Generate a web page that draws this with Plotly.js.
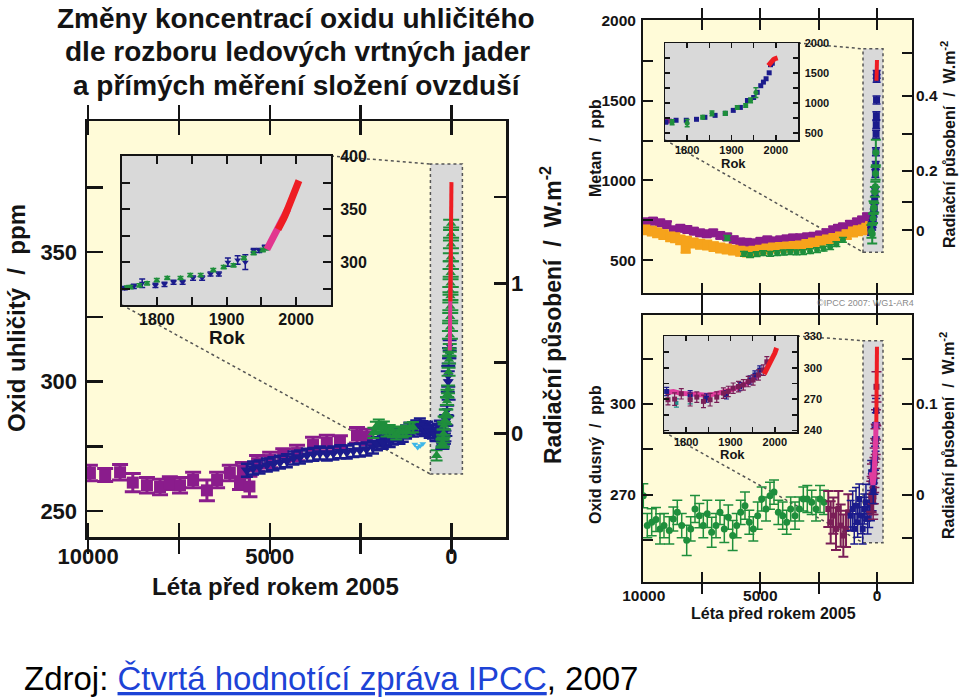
<!DOCTYPE html>
<html><head><meta charset="utf-8">
<script src="https://cdn.plot.ly/plotly-3.0.1.min.js"></script>
<style>html,body{margin:0;padding:0;background:#fff;overflow:hidden}#chart{width:960px;height:697px}</style>
</head><body><div id="chart"></div><script>
// ---------------- DATA ----------------
const REF_YEAR = 2005;
// CO2 main panel (years before 2005, ppm)
const co2PurpleBP  = [9950, 9530, 9120, 8770, 8380, 8020, 7750, 7470, 7110, 6730, 6450, 6100, 5820, 5740, 5560, 5350, 4990, 4630, 4250, 3810, 3430, 3070, 2600, 2330];
const co2PurplePpm = [264.7, 263.9, 265.0, 261.0, 260.0, 259.3, 260.8, 260.0, 262.0, 258.0, 262.0, 264.7, 260.8, 265.8, 259.5, 268.5, 269.7, 271.6, 272.4, 275.5, 276.3, 276.6, 279.3, 278.6];
const co2PurpleErr = [3, 2.5, 3, 3.5, 3, 3, 2.5, 3, 3, 4, 3, 3, 2.5, 3, 4, 3, 3, 2.5, 3, 3, 3, 2.5, 3, 3];
const co2NavyBP  = [5630, 5460, 5280, 5080, 4900, 4720, 4530, 4350, 4170, 3980, 3800, 3620, 3430, 3250, 3060, 2880, 2700, 2520, 2340, 2160, 2050, 1950, 1890, 1800, 1700, 1610, 1520, 1430, 1340, 1250, 1160, 1060, 970, 870, 800, 730, 670, 600, 510, 440, 380, 320, 260];
const co2NavyPpm = [265.8, 266.6, 267.0, 267.8, 268.3, 268.9, 269.4, 270.5, 270.9, 271.6, 271.9, 272.4, 272.0, 272.4, 272.9, 272.8, 273.4, 273.6, 274.0, 274.7, 276.0, 277.5, 276.6, 278.0, 277.2, 278.2, 279.5, 278.5, 279.3, 280.5, 281.6, 281.3, 282.5, 283.2, 282.2, 281.5, 282.0, 280.8, 280.5, 279.6, 281.2, 282.4, 280.5];
const co2GreenBP  = [2150, 2080, 2000, 1930, 1860, 1790, 1700, 1610, 1520, 1430, 1340, 1250, 1150, 1060, 410];
const co2GreenPpm = [280.2, 282.5, 283.4, 282.0, 282.6, 280.8, 281.2, 280.5, 279.6, 280.7, 280.4, 281.0, 282.1, 282.4, 271.5];
const co2CyanBP  = [1010, 930, 860, 790];
const co2CyanPpm = [275.8, 274.6, 275.2, 276.0];
// CO2 industrial era (calendar years, ppm)
const co2NavyYear    = [1754, 1767, 1779, 1798, 1811, 1824, 1837, 1852, 1865, 1877, 1889, 1902, 1916, 1927, 1939, 1947, 1955];
const co2NavyYearPpm = [275.5, 277, 280, 278, 279, 281, 281, 285, 285, 288.8, 288.8, 300, 302, 300, 311, 311, 314];
const co2NavyYearErr = [1.5, 2, 4, 2, 2, 2, 2, 2, 2, 2, 2, 4, 4, 7, 2, 2, 2];
const co2GreenYear    = [1757, 1762, 1775, 1786, 1800, 1815, 1834, 1848, 1863, 1881, 1896, 1910, 1925, 1939, 1952, 1957];
const co2GreenYearPpm = [276, 276.4, 278, 280, 283, 285, 285, 287.7, 287.7, 292.5, 295.3, 297, 303.8, 308.5, 311.3, 313];
const co2GreenRecentYear = [1962, 1966, 1970, 1973, 1976, 1978, 1980, 1983, 1985, 1987, 1990, 1993, 1996];
const co2GreenRecentPpm  = [318, 321, 325, 329, 333, 335, 338, 342, 345, 348, 353, 357, 361];
const co2PinkYear = [1958, 1960, 1962, 1964, 1966, 1968, 1970, 1972, 1974, 1976, 1978, 1980, 1982, 1984, 1986, 1988];
const co2PinkPpm  = [312, 314.5, 316.5, 318, 320, 322.5, 325, 327.5, 330, 332, 335, 338, 341, 344, 347, 350];
const co2RedYear = [1974, 1976, 1978, 1980, 1982, 1984, 1986, 1988, 1990, 1992, 1994, 1996, 1998, 2000, 2002, 2004];
const co2RedPpm  = [331, 333, 335.5, 338.5, 341, 344, 347, 350.5, 354, 356.5, 359, 362.5, 366, 369.5, 373, 377];

// CH4 main panel (years before 2005, ppb)
const ch4PurpleBP  = [9900, 9600, 9290, 9000, 8730, 8430, 8130, 7850, 7580, 7300, 7020, 6720, 6420, 6140, 5860, 5580, 5300, 5000, 4700, 4430, 4150, 3880, 3600, 3300, 3000, 2720, 2440, 2160, 1880, 1670, 1460, 1160, 860, 640, 430];
const ch4PurplePpb = [740, 745, 734, 722, 690, 700, 692, 682, 671, 665, 671, 655, 646, 628, 614, 612, 608, 618, 627, 620, 627, 633, 639, 640, 646, 650, 658, 672, 690, 700, 709, 725, 740, 752, 772];
const ch4OrangeBP  = [9930, 9650, 9420, 9150, 8860, 8650, 8430, 8200, 8150, 7870, 7580, 7280, 7000, 6720, 6440, 6160, 5860, 5570, 5290, 5010, 4730, 4450, 4150, 3850, 3570, 3300, 3020, 2740, 2440, 2140, 1860, 1580, 1300, 1030, 820, 600, 450, 300];
const ch4OrangePpb = [690, 682, 671, 660, 646, 640, 627, 575, 618, 608, 600, 595, 585, 576, 570, 563, 556, 551, 556, 563, 570, 576, 580, 582, 586, 589, 598, 608, 618, 627, 636, 646, 660, 677, 684, 690, 700, 709];
const ch4GreenBP  = [6420, 5700, 5440, 5160, 4880, 4580, 4280, 4000, 3720, 3450, 3170, 2870, 2570, 2290, 2010, 1740, 1460];
const ch4GreenPpb = [639, 540, 532, 538, 544, 540, 544, 548, 551, 549, 551, 556, 563, 572, 582, 600, 627];
// CH4 industrial era (calendar years, ppb)
const ch4NavyYear = [1752, 1775, 1798, 1821, 1840, 1863, 1886, 1904, 1920, 1936, 1950, 1958, 1966, 1972, 1978, 1985, 1988, 1992];
const ch4NavyPpb  = [681, 714, 714, 730, 763, 796, 829, 879, 928, 1044, 1093, 1180, 1290, 1350, 1406, 1505, 1640, 1665];
const ch4GreenYear = [1766, 1800, 1835, 1856, 1886, 1913, 1932, 1943, 1955];
const ch4GreenYearPpb = [681, 665, 763, 829, 829, 928, 961, 1044, 1175];
const ch4GreenYearErr = [40, 60, 30, 40, 30, 30, 30, 40, 80];
const ch4PurpleYear = [1752, 1760];
const ch4PurpleYearPpb = [714, 700];
const ch4RedYear = [1983, 1986, 1989, 1992, 1995, 1998, 2001, 2004];
const ch4RedPpb  = [1625, 1660, 1690, 1715, 1728, 1740, 1750, 1755];

// N2O main panel (years before 2005, ppb)
const n2oGreenBP  = [10017, 9846, 9657, 9473, 9301, 9130, 8902, 8731, 8560, 8371, 8157, 7986, 7801, 7616, 7445, 7274, 7086, 6901, 6730, 6545, 6374, 6186, 6015, 5843, 5659, 5473, 5302, 5114, 4943, 4758, 4587, 4415, 4230, 4042, 3871, 3700, 3515, 3331, 3159, 2988, 2799, 2615, 2443, 2272];
const n2oGreenPpb = [269.6, 259.7, 260.8, 261.7, 258.6, 259.7, 258.1, 261.9, 264.1, 259.7, 254.8, 258.6, 265.2, 263.0, 259.7, 263.6, 257.5, 259.7, 264.1, 258.6, 262.5, 256.4, 259.7, 264.1, 266.3, 260.8, 258.6, 263.0, 268.5, 265.2, 269.6, 270.8, 264.1, 263.0, 260.8, 265.2, 263.0, 265.2, 268.5, 268.5, 267.4, 265.2, 268.5, 267.4];
const n2oGreenErr = [4, 4, 4.5, 4, 5, 4, 4.5, 4, 4, 4, 5, 4, 4.5, 4, 4, 4.5, 5, 4, 4, 4.5, 4, 5, 4, 4, 4.5, 4, 4, 4.5, 4, 4, 4.5, 4, 4, 4.5, 4, 4, 4.5, 4, 4, 4.5, 4, 4, 4.5, 4];
const n2oMaroonBP  = [2088, 1985, 1871, 1757, 1657, 1557, 1443, 1328, 1229];
const n2oMaroonPpb = [265.2, 260.8, 263.0, 258.6, 265.2, 259.7, 256.4, 258.6, 264.1];
const n2oMaroonErr = [6, 7, 6, 7, 6, 7, 7, 6, 6];
const n2oNavyBP  = [1129, 1043, 974, 901, 830, 761, 688, 615, 547, 474, 401, 332, 259, 187];
const n2oNavyPpb = [263.0, 265.2, 258.6, 266.3, 260.8, 268.5, 263.0, 258.6, 265.2, 267.4, 261.9, 264.1, 266.3, 269.6];
const n2oNavyErr = [5, 6, 5, 6, 5, 5, 6, 5, 5, 6, 5, 5, 5, 5];
// N2O industrial era (calendar years, ppb)
const n2oPinkYear = [1756, 1771, 1786, 1801, 1816, 1831, 1846, 1861, 1876, 1891, 1906, 1921, 1936, 1951, 1966];
const n2oPinkPpb  = [276.4, 277.3, 275.7, 275.1, 274.1, 273.2, 273.8, 274.5, 275.7, 277.6, 279.5, 281.8, 285, 289, 294];
const n2oMaroonYear    = [1759, 1774, 1789, 1809, 1824, 1839, 1854, 1869, 1884, 1895, 1906, 1918, 1929, 1940, 1951, 1963, 1974, 1982];
const n2oMaroonYearPpb = [269.4, 270.0, 275.1, 269.4, 271.9, 267.8, 269.4, 271.9, 275.7, 277.3, 280.4, 282.0, 283.6, 286.8, 288.3, 293.1, 297.8, 305.7];
const n2oMaroonYearErr = [5, 6, 5, 6, 5, 6, 6, 5, 5, 5, 5, 5, 5, 5, 5, 5, 5, 5];
const n2oNavyYear    = [1756, 1809, 1846, 1891, 1921, 1944, 1955, 1966];
const n2oNavyYearPpb = [277.3, 274.1, 271.0, 274.1, 282.0, 288.3, 293.1, 297.8];
const n2oTealYear = [1778, 1809];
const n2oTealPpb  = [266.3, 269.4];
const n2oRedYear = [1976, 1980, 1984, 1988, 1992, 1996, 2000, 2004];
const n2oRedPpb  = [294, 297, 300, 303, 306, 310, 314, 319];

// Tick labels
const mainXTickVals = [10000, 7500, 5000, 2500, 0];
const mainXTickText = ['10000', '', '5000', '', '0'];
const insetXTickVals = [1800, 1850, 1900, 1950, 2000];
const insetXTickText = ['1800', '', '1900', '', '2000'];
const co2YTickVals = [250, 275, 300, 325, 350, 375];
const co2YTickText = ['250', '', '300', '', '350', ''];
const co2InsYTickVals = [275, 300, 325, 350, 375, 400];
const co2InsYTickText = ['', '300', '', '350', '', '400'];
const co2RfTickText = ['0', '', '1', ''];
const co2RfTickPpm  = [279.9, 307.3, 337.8, 371.2];
const ch4YTickVals = [500, 750, 1000, 1250, 1500, 1750, 2000];
const ch4YTickText = ['500', '', '1000', '', '1500', '', '2000'];
const ch4InsYTickVals = [500, 750, 1000, 1250, 1500, 1750, 2000];
const ch4InsYTickText = ['500', '', '1000', '', '1500', '', '2000'];
const ch4RfTickText = ['0', '', '0.2', '', '0.4', ''];
const ch4RfTickPpb  = [687, 862, 1062, 1294, 1531, 1800];
const n2oYTickVals = [255, 270, 285, 300, 315, 330];
const n2oYTickText = ['', '270', '', '300', '', '330'];
const n2oInsYTickVals = [240, 255, 270, 285, 300, 315, 330];
const n2oInsYTickText = ['240', '', '270', '', '300', '', '330'];
const n2oRfTickText = ['', '0', '', '0.1', ''];
const n2oRfTickPpb  = [255.5, 270, 285.2, 300, 314.9];

// ---------------- STYLE / LAYOUT ----------------
const W = 960, H = 697;
const FONT = 'Liberation Sans, Arial, Helvetica, sans-serif';
const BLACK = '#141414';
const C = {purple:'#8a1c8c', navy:'#1b1b8c', green:'#1f8f3c', cyan:'#3db6e8', pink:'#e2368f',
  red:'#ee1d23', orange:'#f6a31b', maroon:'#7a1e57', npink:'#e03c9e', teal:'#1e8f8a',
  bg:'#fffbd8', grey:'#d9d9d9', dot:'#555555'};

const P = {
  co2:  {l:87,  t:121, r:506, b:537, xr:[10030,-1500], yr:[240,400.6]},
  co2i: {l:122, t:156, r:331, b:305, xr:[1750,2050],  yr:[259.5,400.3]},
  ch4:  {l:643, t:20,  r:912, b:293, xr:[10030,-1500], yr:[294,2006]},
  ch4i: {l:665, t:43,  r:798, b:140, xr:[1750,2050],  yr:[385,2002]},
  n2o:  {l:643, t:315, r:912, b:582, xr:[10030,-1500], yr:[241,329.5]},
  n2oi: {l:664, t:336, r:797, b:432, xr:[1750,2050],  yr:[238.5,330.4]}
};
const BOX = {
  co2: {x0:580, x1:-300, y0:264.3, y1:384},
  ch4: {x0:600, x1:-257, y0:550, y1:1825},
  n2o: {x0:600, x1:-257, y0:254, y1:321}
};
function xdom(p){return [p.l/W, p.r/W];}
function ydom(p){return [1-p.b/H, 1-p.t/H];}
function px2x(p,px){return p.xr[0]+(px-p.l)/(p.r-p.l)*(p.xr[1]-p.xr[0]);}
function py2y(p,py){return p.yr[1]-(py-p.t)/(p.b-p.t)*(p.yr[1]-p.yr[0]);}
const toBP = arr => arr.map(y => REF_YEAR - y);

function font(size, bold, color){return {family:FONT, size:size, color:color||BLACK, weight: bold?'bold':'normal'};}
function axis(p, isX, extra){
  return Object.assign({domain: isX?xdom(p):ydom(p), range: isX?p.xr:p.yr, autorange:false,
    showgrid:false, zeroline:false, showline:true, linecolor:BLACK, linewidth:2.5,
    ticks:'inside', tickcolor:BLACK, fixedrange:true, tickmode:'array'}, extra);
}
function rfAxis(base, xa, p, vals, text, tf, len, w, standoff){
  return {overlaying:base, side:'right', anchor:xa, range:p.yr, autorange:false, tickmode:'array',
    tickvals:vals, ticktext:text, ticks:'inside', ticklen:len, tickwidth:w, tickcolor:BLACK,
    showline:false, showgrid:false, zeroline:false, showticklabels:true, tickfont:tf,
    ticklabelstandoff:standoff, fixedrange:true};
}

// ---------------- TRACES ----------------
function pts(x, y, xa, ya, color, symbol, size, err, errW, thick){
  const t = {x:x, y:y, xaxis:xa, yaxis:ya, type:'scatter', mode:'markers', cliponaxis:true,
    marker:{symbol:symbol, size:size, color:color, line:{width:0}}, hoverinfo:'skip', showlegend:false};
  if (err) t.error_y = {type:'data', array:err, color:color, thickness:thick||2, width:errW||4};
  return t;
}
function line(x, y, xa, ya, color, width){
  return {x:x, y:y, xaxis:xa, yaxis:ya, type:'scatter', mode:'lines', line:{color:color, width:width},
    hoverinfo:'skip', showlegend:false};
}
// radiative-forcing scale carries the same concentration values (invisible carrier trace)
function carrier(x, y, xa, ya){
  return {x:x, y:y, xaxis:xa, yaxis:ya, type:'scatter', mode:'markers', marker:{size:1, opacity:0},
    hoverinfo:'skip', showlegend:false};
}
const rep = (v, arr) => arr.map(() => v);

const traces = [
  // CO2 main
  pts(co2CyanBP, co2CyanPpm, 'x', 'y', C.cyan, 'triangle-down', 6),
  pts(co2PurpleBP, co2PurplePpm, 'x', 'y', C.purple, 'square', 12, co2PurpleErr, 8, 3),
  pts(co2NavyBP, co2NavyPpm, 'x', 'y', C.navy, 'triangle-down', 11, rep(2.5, co2NavyBP), 6, 2.5),
  pts(co2GreenBP, co2GreenPpm, 'x', 'y', C.green, 'triangle-up', 10, rep(2, co2GreenBP), 6, 2),
  pts(toBP(co2NavyYear), co2NavyYearPpm, 'x', 'y', C.navy, 'triangle-down', 9, co2NavyYearErr, 7, 2),
  pts(toBP(co2GreenYear), co2GreenYearPpm, 'x', 'y', C.green, 'triangle-up', 9, rep(1.5, co2GreenYear), 7, 2),
  pts(toBP(co2GreenRecentYear), co2GreenRecentPpm, 'x', 'y', C.green, 'triangle-up', 9, rep(1.5, co2GreenRecentYear), 8, 2),
  line(toBP(co2PinkYear), co2PinkPpm, 'x', 'y', C.pink, 4),
  line(toBP(co2RedYear), co2RedPpm, 'x', 'y', C.red, 4),
  carrier(toBP(co2RedYear), co2RedPpm, 'x', 'y7'),
  // CO2 inset
  pts(co2NavyYear, co2NavyYearPpm, 'x2', 'y2', C.navy, 'triangle-down', 6, co2NavyYearErr, 3, 1.5),
  pts(co2GreenYear, co2GreenYearPpm, 'x2', 'y2', C.green, 'triangle-up', 6, rep(1.5, co2GreenYear), 3, 1.5),
  line(co2PinkYear, co2PinkPpm, 'x2', 'y2', C.pink, 7),
  line(co2RedYear, co2RedPpm, 'x2', 'y2', C.red, 7),

  // CH4 main
  pts(ch4PurpleBP, ch4PurplePpb, 'x3', 'y3', C.purple, 'square', 9, rep(20, ch4PurpleBP), 5, 2),
  pts(ch4OrangeBP, ch4OrangePpb, 'x3', 'y3', C.orange, 'square', 10, rep(28, ch4OrangeBP), 5, 2),
  pts(ch4GreenBP, ch4GreenPpb, 'x3', 'y3', C.green, 'circle', 6, rep(15, ch4GreenBP), 4, 1.5),
  pts(toBP(ch4PurpleYear), ch4PurpleYearPpb, 'x3', 'y3', C.purple, 'square', 7),
  pts(toBP(ch4NavyYear), ch4NavyPpb, 'x3', 'y3', C.navy, 'square', 7, rep(25, ch4NavyYear), 4, 1.5),
  pts(toBP(ch4GreenYear), ch4GreenYearPpb, 'x3', 'y3', C.green, 'circle', 7, ch4GreenYearErr, 5, 2),
  line(toBP(ch4RedYear), ch4RedPpb, 'x3', 'y3', C.red, 4),
  carrier(toBP(ch4RedYear), ch4RedPpb, 'x3', 'y8'),
  // CH4 inset
  pts(ch4PurpleYear, ch4PurpleYearPpb, 'x4', 'y4', C.purple, 'square', 5),
  pts(ch4NavyYear, ch4NavyPpb, 'x4', 'y4', C.navy, 'square', 5),
  pts(ch4GreenYear, ch4GreenYearPpb, 'x4', 'y4', C.green, 'circle', 5, ch4GreenYearErr, 2.5, 1.5),
  line(ch4RedYear, ch4RedPpb, 'x4', 'y4', C.red, 5),

  // N2O main
  pts(n2oGreenBP, n2oGreenPpb, 'x5', 'y5', C.green, 'circle', 7, n2oGreenErr, 5, 1.5),
  pts(n2oMaroonBP, n2oMaroonPpb, 'x5', 'y5', C.maroon, 'square', 6, n2oMaroonErr, 5, 2),
  pts(n2oNavyBP, n2oNavyPpb, 'x5', 'y5', C.navy, 'square', 6, n2oNavyErr, 4, 1.5),
  pts(toBP(n2oMaroonYear), n2oMaroonYearPpb, 'x5', 'y5', C.maroon, 'square', 6, n2oMaroonYearErr, 5, 1.5),
  pts(toBP(n2oNavyYear), n2oNavyYearPpb, 'x5', 'y5', C.navy, 'square', 6, rep(4, n2oNavyYear), 4, 1.5),
  line(toBP(n2oPinkYear), n2oPinkPpb, 'x5', 'y5', C.npink, 5),
  line(toBP(n2oRedYear), n2oRedPpb, 'x5', 'y5', C.red, 4),
  carrier(toBP(n2oRedYear), n2oRedPpb, 'x5', 'y9'),
  // N2O inset
  line(n2oPinkYear, n2oPinkPpb, 'x6', 'y6', C.npink, 5),
  pts(n2oTealYear, n2oTealPpb, 'x6', 'y6', C.teal, 'square', 4, [4, 4], 2.5, 1.2),
  pts(n2oNavyYear, n2oNavyYearPpb, 'x6', 'y6', C.navy, 'square', 5, rep(4, n2oNavyYear), 2.5, 1.2),
  pts(n2oMaroonYear, n2oMaroonYearPpb, 'x6', 'y6', C.maroon, 'square', 5, n2oMaroonYearErr, 2.5, 1.2),
  line(n2oRedYear, n2oRedPpb, 'x6', 'y6', C.red, 5)
];

// ---------------- SHAPES ----------------
const shapes = [];
function bg(xa, ya, color){
  shapes.push({type:'rect', xref:xa+' domain', yref:ya+' domain', x0:0, x1:1, y0:0, y1:1,
    fillcolor:color, line:{width:0}, layer:'below'});
}
function grayBox(xa, ya, b){
  shapes.push({type:'rect', xref:xa, yref:ya, x0:b.x0, x1:b.x1, y0:b.y0, y1:b.y1,
    fillcolor:C.grey, line:{color:C.dot, width:1.5, dash:'dot'}, layer:'below'});
}
function connector(xa, ya, main, ins, b){
  shapes.push({type:'line', xref:xa, yref:ya, x0:px2x(main, ins.r), y0:py2y(main, ins.t), x1:b.x0, y1:b.y1,
    line:{color:C.dot, width:1.5, dash:'dot'}, layer:'below'});
  shapes.push({type:'line', xref:xa, yref:ya, x0:px2x(main, ins.l), y0:py2y(main, ins.b), x1:b.x0, y1:b.y0,
    line:{color:C.dot, width:1.5, dash:'dot'}, layer:'below'});
}
bg('x', 'y', C.bg); grayBox('x', 'y', BOX.co2); connector('x', 'y', P.co2, P.co2i, BOX.co2);
bg('x3', 'y3', C.bg); grayBox('x3', 'y3', BOX.ch4); connector('x3', 'y3', P.ch4, P.ch4i, BOX.ch4);
bg('x5', 'y5', C.bg); grayBox('x5', 'y5', BOX.n2o); connector('x5', 'y5', P.n2o, P.n2oi, BOX.n2o);
bg('x2', 'y2', C.grey); bg('x4', 'y4', C.grey); bg('x6', 'y6', C.grey);

// ---------------- ANNOTATIONS ----------------
function ann(text, px, py, size, extra){
  return Object.assign({text:text, x:px/W, y:1-py/H, xref:'paper', yref:'paper', showarrow:false,
    xanchor:'center', yanchor:'middle', font:font(size, true)}, extra||{});
}
const NB = '\u00a0';
const rfTitle = 'Radiační působení' + NB + NB + '/' + NB + NB + 'W.m<sup>-2</sup>';
const annotations = [
  ann('Změny koncentrací oxidu uhličitého', 296, 19, 28),
  ann('dle rozboru ledových vrtných jader', 297, 52, 28),
  ann('a přímých měření složení ovzduší', 297, 85, 28),
  ann('Oxid uhličitý' + NB + NB + '/' + NB + NB + 'ppm', 16, 318, 24, {textangle:-90}),
  ann(rfTitle, 551, 315, 23, {textangle:-90}),
  ann('Léta před rokem 2005', 275, 586, 24),
  ann('Rok', 227, 338, 19),
  ann('Metan' + NB + NB + '/' + NB + NB + 'ppb', 595, 148, 16, {textangle:-90}),
  ann(rfTitle, 948, 145, 16, {textangle:-90}),
  ann('Rok', 733, 163, 13),
  ann('Oxid dusný' + NB + NB + '/' + NB + NB + 'ppb', 595, 455, 16, {textangle:-90}),
  ann(rfTitle, 947, 436, 16, {textangle:-90}),
  ann('Léta před rokem 2005', 773, 613, 16),
  ann('Rok', 732, 454, 13),
  ann('©IPCC' + NB + '2007:' + NB + 'WG1-AR4', 865, 303, 9, {font:font(9, false, '#8a8a8a')}),
  ann('Zdroj: <span style="color:#1d43d6"><u>Čtvrtá hodnotící zpráva IPCC</u></span>, 2007', 22, 678, 33,
      {xanchor:'left', font:font(33, false, '#000')})
];

// ---------------- AXES ----------------
const mainTF = font(22, true), smallTF = font(15.5, true);
const layout = {
  width:W, height:H, margin:{l:0, r:0, t:0, b:0}, autosize:false,
  paper_bgcolor:'#ffffff', plot_bgcolor:'rgba(0,0,0,0)', showlegend:false,
  font:{family:FONT, color:BLACK},
  shapes:shapes, annotations:annotations,
  // CO2
  xaxis: axis(P.co2, true, {anchor:'y', tickvals:mainXTickVals, ticktext:mainXTickText, mirror:'allticks',
    ticklen:14, tickwidth:2.5, tickfont:mainTF, ticklabelstandoff:-2}),
  yaxis: axis(P.co2, false, {anchor:'x', tickvals:co2YTickVals, ticktext:co2YTickText, mirror:true,
    ticklen:16, tickwidth:2.5, tickfont:mainTF, ticklabelstandoff:3}),
  yaxis7: rfAxis('y', 'x', P.co2, co2RfTickPpm, co2RfTickText, font(22, true), 12, 2.5, 4),
  xaxis2: axis(P.co2i, true, {anchor:'y2', tickvals:insetXTickVals, ticktext:insetXTickText, mirror:'allticks',
    ticklen:8, tickwidth:2, linewidth:2, tickfont:font(16, true), ticklabelstandoff:-1}),
  yaxis2: axis(P.co2i, false, {anchor:'x2', side:'right', tickvals:co2InsYTickVals, ticktext:co2InsYTickText,
    mirror:'allticks', ticklen:8, tickwidth:2, linewidth:2, tickfont:font(16, true), ticklabelstandoff:4}),
  // CH4
  xaxis3: axis(P.ch4, true, {anchor:'y3', tickvals:mainXTickVals, ticktext:mainXTickText, mirror:'allticks',
    ticklen:10, tickwidth:2, linewidth:2, showticklabels:false}),
  yaxis3: axis(P.ch4, false, {anchor:'x3', tickvals:ch4YTickVals, ticktext:ch4YTickText, mirror:true,
    ticklen:10, tickwidth:2, linewidth:2, tickfont:smallTF, ticklabelstandoff:2}),
  yaxis8: rfAxis('y3', 'x3', P.ch4, ch4RfTickPpb, ch4RfTickText, font(15.5, true), 10, 2, 3),
  xaxis4: axis(P.ch4i, true, {anchor:'y4', tickvals:insetXTickVals, ticktext:insetXTickText, mirror:'allticks',
    ticklen:5, tickwidth:1.5, linewidth:1.5, tickfont:font(11, true), ticklabelstandoff:-1}),
  yaxis4: axis(P.ch4i, false, {anchor:'x4', side:'right', tickvals:ch4InsYTickVals, ticktext:ch4InsYTickText,
    mirror:'allticks', ticklen:5, tickwidth:1.5, linewidth:1.5, tickfont:font(11, true), ticklabelstandoff:3}),
  // N2O
  xaxis5: axis(P.n2o, true, {anchor:'y5', tickvals:mainXTickVals, ticktext:mainXTickText, mirror:'allticks',
    ticklen:10, tickwidth:2, linewidth:2, tickfont:smallTF, ticklabelstandoff:-2}),
  yaxis5: axis(P.n2o, false, {anchor:'x5', tickvals:n2oYTickVals, ticktext:n2oYTickText, mirror:true,
    ticklen:10, tickwidth:2, linewidth:2, tickfont:smallTF, ticklabelstandoff:2}),
  yaxis9: rfAxis('y5', 'x5', P.n2o, n2oRfTickPpb, n2oRfTickText, font(15.5, true), 10, 2, 3),
  xaxis6: axis(P.n2oi, true, {anchor:'y6', tickvals:insetXTickVals, ticktext:insetXTickText, mirror:'allticks',
    ticklen:5, tickwidth:1.5, linewidth:1.5, tickfont:font(11, true), ticklabelstandoff:-1}),
  yaxis6: axis(P.n2oi, false, {anchor:'x6', side:'right', tickvals:n2oInsYTickVals, ticktext:n2oInsYTickText,
    mirror:'allticks', ticklen:5, tickwidth:1.5, linewidth:1.5, tickfont:font(11, true), ticklabelstandoff:3})
};

Plotly.newPlot('chart', traces, layout, {staticPlot:true, displayModeBar:false});
</script></body></html>
